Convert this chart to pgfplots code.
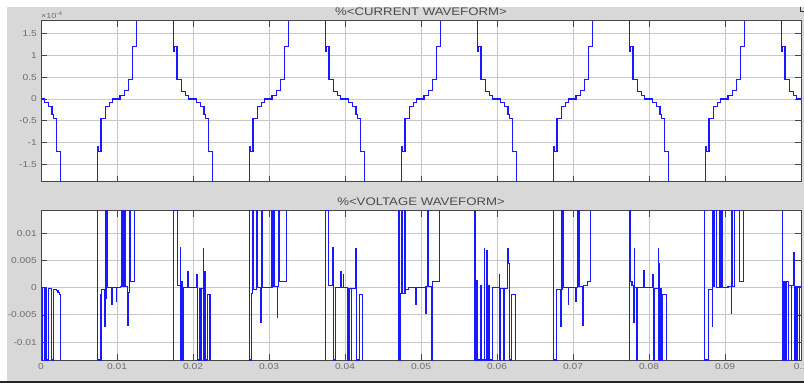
\documentclass[border=0pt]{standalone}
\usepackage{pgfplots}
\pgfplotsset{compat=1.18}
\usepackage{fontspec}
\setmainfont{Liberation Sans}
\definecolor{bgray}{RGB}{216,216,216}
\definecolor{gridc}{RGB}{200,200,200}
\definecolor{framec}{RGB}{70,70,70}
\definecolor{ticklab}{RGB}{110,110,110}
\definecolor{titlec}{RGB}{75,75,75}
\definecolor{wave}{RGB}{25,25,255}
\pgfplotsset{
  scopestyle/.style={
    scale only axis, width=760pt,
    xmin=0, xmax=0.1,
    axis background/.style={fill=white},
    axis line style={framec, line width=0.8pt},
    major tick style={framec, line width=0.8pt},
    major tick length=6pt,
    tick align=inside,
    grid=major,
    major grid style={gridc, line width=0.9pt},
    tick label style={font=\fontsize{8.5}{10}\selectfont, text=ticklab, xscale=1.2},
    xtick={0,0.01,0.02,0.03,0.04,0.05,0.06,0.07,0.08,0.09,0.1},
    scaled x ticks=false, scaled y ticks=false,
    clip=false,
  },
  wv/.style={const plot mark left, draw=wave, line width=1.1pt, mark=none},
}
\begin{document}
\begin{tikzpicture}
\fill[white] (0,0) rectangle (804pt,-383pt);
\fill[bgray] (7pt,-7pt) rectangle (804pt,-383pt);

% ---------- current waveform (values in units of 1e-4; off-scale runs end at the axis edge) ----------
\begin{axis}[scopestyle,
  at={(41pt,-20.7pt)}, anchor=north west, height=161pt,
  ymin=-1.9, ymax=1.8,
  xticklabels={},
  ytick={-1.5,-1,-0.5,0,0.5,1,1.5},
  yticklabels={-1.5,-1,-0.5,0,0.5,1,1.5},
]
\addplot[wv] coordinates {(0.00000,0) (0.00045,-0.08) (0.00100,-0.18) (0.00145,-0.35) (0.00165,-0.44) (0.00200,-1.2) (0.00255,-1.9)};
\addplot[wv] coordinates {(0.00745,-1.9) (0.00745,-1.1) (0.00755,-1.2) (0.00790,-0.44) (0.00850,-0.18) (0.00900,-0.08) (0.00940,0)
(0.01040,0.08) (0.01100,0.2) (0.01150,0.45) (0.01200,1.2) (0.01255,1.8)};
\addplot[wv] coordinates {(0.01745,1.8) (0.01745,1.1) (0.01755,1.2) (0.01790,0.44) (0.01850,0.18) (0.01900,0.08) (0.01940,0)
(0.02045,-0.08) (0.02100,-0.18) (0.02145,-0.35) (0.02165,-0.44) (0.02200,-1.2) (0.02255,-1.9)};
\addplot[wv] coordinates {(0.02745,-1.9) (0.02745,-1.1) (0.02755,-1.2) (0.02790,-0.44) (0.02850,-0.18) (0.02900,-0.08) (0.02940,0)
(0.03040,0.08) (0.03100,0.2) (0.03150,0.45) (0.03200,1.2) (0.03255,1.8)};
\addplot[wv] coordinates {(0.03745,1.8) (0.03745,1.1) (0.03755,1.2) (0.03790,0.44) (0.03850,0.18) (0.03900,0.08) (0.03940,0)
(0.04045,-0.08) (0.04100,-0.18) (0.04145,-0.35) (0.04165,-0.44) (0.04200,-1.2) (0.04255,-1.9)};
\addplot[wv] coordinates {(0.04745,-1.9) (0.04745,-1.1) (0.04755,-1.2) (0.04790,-0.44) (0.04850,-0.18) (0.04900,-0.08) (0.04940,0)
(0.05040,0.08) (0.05100,0.2) (0.05150,0.45) (0.05200,1.2) (0.05255,1.8)};
\addplot[wv] coordinates {(0.05745,1.8) (0.05745,1.1) (0.05755,1.2) (0.05790,0.44) (0.05850,0.18) (0.05900,0.08) (0.05940,0)
(0.06045,-0.08) (0.06100,-0.18) (0.06145,-0.35) (0.06165,-0.44) (0.06200,-1.2) (0.06255,-1.9)};
\addplot[wv] coordinates {(0.06745,-1.9) (0.06745,-1.1) (0.06755,-1.2) (0.06790,-0.44) (0.06850,-0.18) (0.06900,-0.08) (0.06940,0)
(0.07040,0.08) (0.07100,0.2) (0.07150,0.45) (0.07200,1.2) (0.07255,1.8)};
\addplot[wv] coordinates {(0.07745,1.8) (0.07745,1.1) (0.07755,1.2) (0.07790,0.44) (0.07850,0.18) (0.07900,0.08) (0.07940,0)
(0.08045,-0.08) (0.08100,-0.18) (0.08145,-0.35) (0.08165,-0.44) (0.08200,-1.2) (0.08255,-1.9)};
\addplot[wv] coordinates {(0.08745,-1.9) (0.08745,-1.1) (0.08755,-1.2) (0.08790,-0.44) (0.08850,-0.18) (0.08900,-0.08) (0.08940,0)
(0.09040,0.08) (0.09100,0.2) (0.09150,0.45) (0.09200,1.2) (0.09255,1.8)};
\addplot[wv] coordinates {(0.09745,1.8) (0.09745,1.1) (0.09755,1.2) (0.09790,0.44) (0.09850,0.18) (0.09900,0.08) (0.09940,0) (0.10000,0)};
\end{axis}

% ---------- voltage waveform (off-scale values end at the axis edge) ----------
\begin{axis}[scopestyle,
  at={(41pt,-210.7pt)}, anchor=north west, height=149.3pt,
  ymin=-0.0133, ymax=0.0142,
  xticklabels={0,0.01,0.02,0.03,0.04,0.05,0.06,0.07,0.08,0.09,0.1},
  ytick={-0.01,-0.005,0,0.005,0.01},
  yticklabels={-0.01,-0.005,0,0.005,0.01},
]
\addplot[wv] coordinates {(0.00000,0) (0.00015,-0.0133) (0.00022,0) (0.00048,-0.0133) (0.00055,-0.0001) (0.00066,-0.0133) (0.00100,-0.0002) (0.00136,-0.0133) (0.00162,-0.0003) (0.00200,-0.0005) (0.00224,-0.0008) (0.00240,-0.0012) (0.00259,-0.0133)};
\addplot[wv] coordinates {(0.00740,-0.0133) (0.00740,0.0142) (0.00748,-0.0133) (0.00790,-0.0012) (0.00800,-0.0003) (0.00836,-0.0072) (0.00842,-0.0003) (0.00852,0.0142) (0.00860,-0.002) (0.00866,0.0142) (0.00880,0) (0.00934,-0.003) (0.00940,0) (0.00988,-0.0025) (0.00994,0) (0.01048,0.0003) (0.01062,0.0142) (0.01068,0.0003) (0.01076,0.0142) (0.01084,0.0003) (0.01092,0.0142) (0.01110,0.0003) (0.01140,-0.007) (0.01146,-0.0009) (0.01162,0.0142) (0.01172,0.0012) (0.01230,0.0142)};
\addplot[wv] coordinates {(0.01740,0.0142) (0.01740,-0.0133) (0.01746,0.0142) (0.01798,0.0005) (0.01830,0.0074) (0.01836,-0.0133) (0.01850,0.0012) (0.01858,-0.0133) (0.01876,0) (0.01928,0.003) (0.01944,0) (0.02048,0.0025) (0.02054,-0.0133) (0.02082,-0.0001) (0.02100,-0.0133) (0.02106,-0.0001) (0.02134,0.0072) (0.02142,-0.0133) (0.02156,0.003) (0.02162,-0.0133) (0.02192,-0.0012) (0.02224,-0.0133)};
\addplot[wv] coordinates {(0.02740,-0.0133) (0.02740,0.0142) (0.02748,-0.0133) (0.02770,-0.001) (0.02780,0.0142) (0.02800,-0.0003) (0.02836,0.0142) (0.02846,0) (0.02890,-0.0064) (0.02896,0.0142) (0.02910,0) (0.03040,0.0142) (0.03048,0.0003) (0.03060,0.0142) (0.03070,0.0003) (0.03110,-0.0055) (0.03116,0.0003) (0.03130,0.0142) (0.03136,0.0012) (0.03230,0.0142)};
\addplot[wv] coordinates {(0.03740,0.0142) (0.03740,-0.0133) (0.03746,0.0142) (0.03780,0.0005) (0.03840,0.0074) (0.03846,-0.0133) (0.03880,0) (0.03940,0.003) (0.03948,0) (0.03975,0.0025) (0.03980,0) (0.04030,-0.0133) (0.04036,-0.0001) (0.04050,-0.0133) (0.04056,-0.0001) (0.04080,-0.0133) (0.04086,-0.0001) (0.04140,0.0072) (0.04148,-0.0133) (0.04190,-0.0012) (0.04230,-0.0133)};
\addplot[wv] coordinates {(0.04710,-0.0133) (0.04710,0.0142) (0.04716,-0.0133) (0.04730,-0.001) (0.04740,0.0142) (0.04750,-0.001) (0.04790,0.0142) (0.04796,-0.0003) (0.04835,0) (0.04930,-0.003) (0.04936,0) (0.05060,-0.0047) (0.05066,0.0003) (0.05090,0.0142) (0.05100,0.0003) (0.05140,-0.0133) (0.05146,0.0012) (0.05240,0.0142)};
\addplot[wv] coordinates {(0.05710,0.0142) (0.05710,-0.0133) (0.05716,0.0013) (0.05722,-0.0133) (0.05730,0.0013) (0.05748,-0.0133) (0.05780,0.0005) (0.05800,-0.0133) (0.05830,0.0072) (0.05840,-0.0133) (0.05860,0.0068) (0.05870,-0.0133) (0.05895,0.0005) (0.05905,-0.0133) (0.05935,0) (0.06030,0.0025) (0.06036,-0.0133) (0.06050,-0.0001) (0.06090,-0.0133) (0.06100,-0.0001) (0.06140,0.0072) (0.06150,0.0045) (0.06160,-0.0133) (0.06190,-0.0012) (0.06240,-0.0133)};
\addplot[wv] coordinates {(0.06740,-0.0133) (0.06740,0.0142) (0.06746,-0.0133) (0.06780,-0.0003) (0.06840,-0.0072) (0.06846,0.0142) (0.06854,-0.0003) (0.06862,0.0142) (0.06880,0) (0.06940,-0.003) (0.06946,0) (0.07040,-0.0025) (0.07046,0) (0.07060,0.0142) (0.07068,0.0003) (0.07080,0.0142) (0.07090,0.0003) (0.07130,-0.007) (0.07136,0.0005) (0.07195,0.0012) (0.07230,0.0142)};
\addplot[wv] coordinates {(0.07740,0.0142) (0.07740,-0.0133) (0.07746,0.0142) (0.07760,0.0012) (0.07776,0.0005) (0.07800,-0.0064) (0.07806,0.0072) (0.07812,0) (0.07840,-0.0133) (0.07846,0) (0.07930,0.0032) (0.07936,0) (0.08050,0.0025) (0.08056,-0.0133) (0.08070,-0.0001) (0.08120,0.0072) (0.08126,0.0045) (0.08132,-0.0133) (0.08150,-0.0001) (0.08160,-0.0133) (0.08180,-0.0012) (0.08230,-0.0133)};
\addplot[wv] coordinates {(0.08730,-0.0133) (0.08730,0.0142) (0.08736,-0.0133) (0.08780,-0.0003) (0.08830,-0.0072) (0.08836,0.0142) (0.08846,0.0003) (0.08860,0.0142) (0.08890,0) (0.08930,0.0142) (0.08936,0) (0.08950,0.0142) (0.08960,0) (0.09040,0.0003) (0.09080,-0.0047) (0.09086,0.0142) (0.09096,0.0003) (0.09120,0.0142) (0.09190,0.0012) (0.09240,0.0142)};
\addplot[wv] coordinates {(0.09760,0.0142) (0.09760,-0.0133) (0.09766,0.0012) (0.09780,-0.0133) (0.09790,0.0012) (0.09800,-0.0133) (0.09810,0.0012) (0.09830,-0.0133) (0.09840,0.0004) (0.09870,-0.0133) (0.09880,0.0004) (0.09905,0.0064) (0.09912,-0.0133) (0.09925,0.0002) (0.09945,-0.0133) (0.09955,0.0002) (0.09975,-0.0133) (0.09985,0.0002) (0.10000,0.0002)};
\end{axis}

\node[font=\fontsize{11}{13}\selectfont, text=titlec, xscale=1.2] at (421pt,-12pt) {\%<CURRENT WAVEFORM>};
\node[font=\fontsize{11}{13}\selectfont, text=titlec, xscale=1.2] at (421pt,-202pt) {\%<VOLTAGE WAVEFORM>};
\node[anchor=west, inner sep=0pt, font=\fontsize{7.5}{9}\selectfont, text=ticklab, xscale=1.2] at (41pt,-15pt) {×10\textsuperscript{-4}};
\fill[black!85] (0,-380.5pt) rectangle (804pt,-383pt);
\draw[black!80, line width=0.8pt] (800.5pt,-6.5pt) -- (800.5pt,-11.5pt) -- (804pt,-11.5pt);

\pgfresetboundingbox
\useasboundingbox (0,0) rectangle (804pt,-383pt);
\end{tikzpicture}
\end{document}
